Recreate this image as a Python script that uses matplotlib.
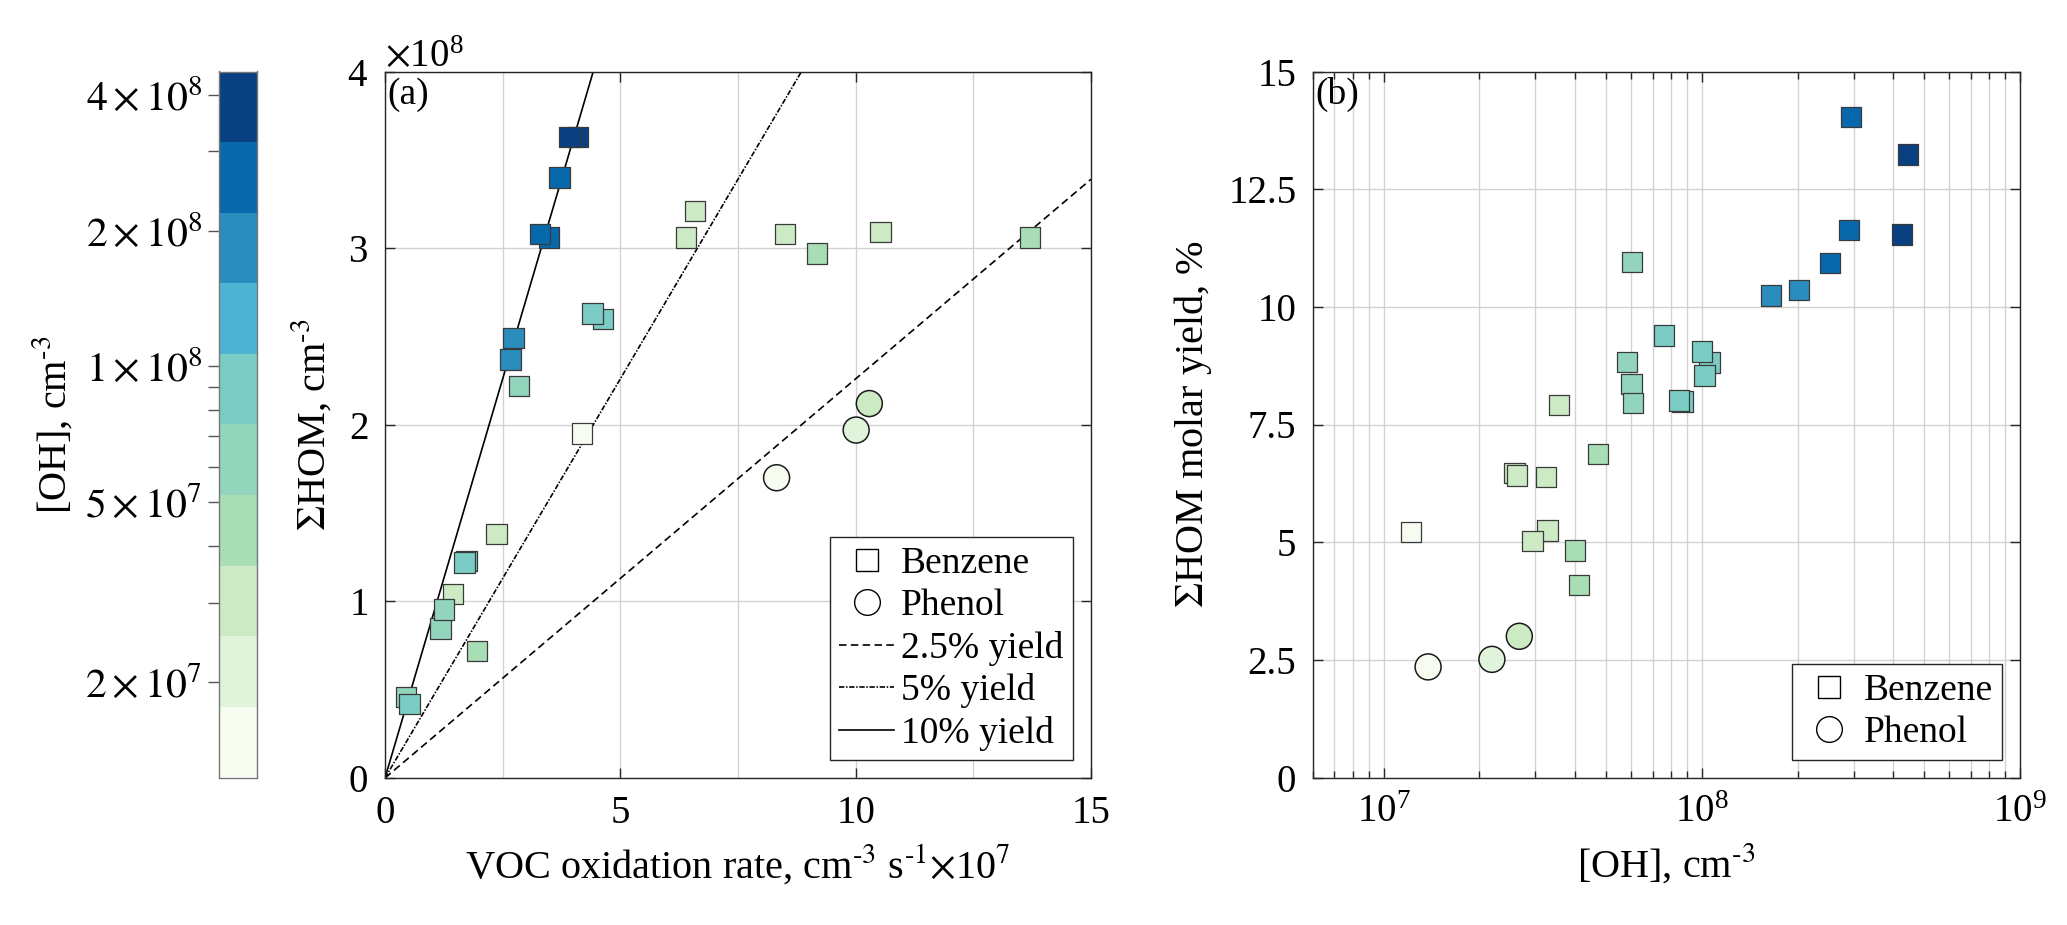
import numpy as np
import matplotlib
matplotlib.use('Agg')
import matplotlib.pyplot as plt
from matplotlib.colors import ListedColormap, BoundaryNorm
from matplotlib.lines import Line2D
from matplotlib.ticker import (FixedLocator, NullFormatter, MultipleLocator,
                               LogLocator, ScalarFormatter)

plt.rcParams['font.family'] = ['Liberation Serif', 'DejaVu Serif']
plt.rcParams['mathtext.fontset'] = 'stix'

# panel (a): benzene, VOC oxidation rate (1e7 cm-3 s-1) vs HOM (1e8 cm-3), OH colour
rate_bz = [0.45, 0.52, 1.18, 1.44, 1.26, 1.73, 1.69, 1.96, 2.37, 2.85, 2.73, 2.67,
           3.49, 3.29, 3.71, 4.09, 3.92, 4.18, 4.63, 4.41, 6.40, 6.58, 8.50, 9.18,
           10.53, 13.71]
hom_bz = [0.46, 0.42, 0.847, 1.04, 0.955, 1.23, 1.22, 0.72, 1.38, 2.22, 2.49, 2.37,
          3.06, 3.08, 3.40, 3.63, 3.63, 1.95, 2.60, 2.63, 3.06, 3.21, 3.08, 2.97,
          3.09, 3.06]
oh_bz_a = [6.0e7, 9.0e7, 6.2e7, 3.0e7, 6.0e7, 1.0e8, 9.5e7, 4.2e7, 3.2e7, 6.0e7,
           2.0e8, 1.7e8, 2.9e8, 2.5e8, 2.9e8, 4.4e8, 4.2e8, 1.22e7, 8.7e7, 8.5e7,
           3.3e7, 2.6e7, 2.9e7, 4.0e7, 3.5e7, 4.7e7]

# panel (a): phenol
rate_ph = [8.32, 10.01, 10.29]
hom_ph = [1.70, 1.97, 2.12]
oh_ph = [1.38e7, 2.19e7, 2.67e7]

# panel (b): benzene, [OH] vs molar yield (%)
oh_bz_b = [1.22e7, 2.58e7, 2.62e7, 3.24e7, 3.27e7, 2.94e7, 3.56e7, 4.0e7, 4.11e7,
           4.72e7, 5.83e7, 6.01e7, 6.07e7, 6.04e7, 7.6e7, 8.7e7, 8.47e7, 1.057e8,
           1.0e8, 1.02e8, 1.65e8, 2.02e8, 2.53e8, 2.9e8, 2.94e8, 4.25e8, 4.45e8]
yield_bz = [5.21, 6.47, 6.42, 6.38, 5.25, 5.02, 7.92, 4.82, 4.09,
            6.87, 8.83, 8.36, 7.96, 10.95, 9.39, 7.99, 8.01, 8.82,
            9.05, 8.54, 10.24, 10.36, 10.93, 11.63, 14.04, 11.54, 13.24]
# panel (b): phenol
yield_ph = [2.35, 2.51, 3.0]

# reference yield lines
yield_lines = [2.5, 5, 10]
yield_labels = ['2.5% yield', '5% yield', '10% yield']
yield_styles = [(0, (4.5, 2.6)), (0, (3.2, 1.0, 0.9, 1.0)), '-']
tau = 90.4
rate_span = np.array([0.0, 15.0])

# discrete colour scale for [OH]
cb_colors = ['#f7fcf0', '#e0f3db', '#ccebc5', '#a8ddb5', '#93d4bc',
             '#7bccc4', '#4eb3d3', '#2b8cbe', '#0868ac', '#084081']
oh_min, oh_max = 1.23e7, 4.5e8
cb_ticks = [2e7, 5e7, 1e8, 2e8, 4e8]
cb_ticklabels = [r'$2\times10^{7}$', r'$5\times10^{7}$', r'$1\times10^{8}$',
                 r'$2\times10^{8}$', r'$4\times10^{8}$']
cb_minor = [3e7, 4e7, 6e7, 7e7, 8e7, 9e7, 3e8]

bounds = np.logspace(np.log10(oh_min), np.log10(oh_max), len(cb_colors) + 1)
cmap = ListedColormap(cb_colors)
norm = BoundaryNorm(bounds, cmap.N, clip=True)

CM3 = r'cm$^{\text{-3}}$'

W, H = 2067, 925
fig = plt.figure(figsize=(W / 100, H / 100), dpi=100)
ax_a = fig.add_axes([385 / W, 1 - 778 / H, 706 / W, 706.5 / H])
ax_b = fig.add_axes([1313 / W, 1 - 777.5 / H, 707 / W, 706 / H])
cax = fig.add_axes([219 / W, 1 - 777.5 / H, 38 / W, 706 / H])

AX_C = '#262626'
GRID_C = '#d2d2d2'
FS = 28


def style(ax):
    for s in ax.spines.values():
        s.set_color(AX_C)
        s.set_linewidth(1.0)
    ax.tick_params(which='both', direction='in', top=True, right=True,
                   labelsize=FS, color=AX_C, width=1.0, pad=12)
    ax.tick_params(which='major', length=7)
    ax.set_axisbelow(True)


# ---------- panel (a)
style(ax_a)
ax_a.set_xlim(0, 15)
ax_a.set_ylim(0, 4e8)
ax_a.xaxis.set_major_locator(FixedLocator([0, 5, 10, 15]))
ax_a.xaxis.set_minor_locator(MultipleLocator(2.5))
ax_a.tick_params(which='minor', length=0)
ax_a.yaxis.set_major_locator(MultipleLocator(1e8))
fmt = ScalarFormatter(useMathText=True)
ax_a.yaxis.set_major_formatter(fmt)
ax_a.yaxis.get_offset_text().set_fontsize(FS)
ax_a.grid(True, which='major', color=GRID_C, lw=1.0)
ax_a.grid(True, which='minor', axis='x', color=GRID_C, lw=1.0)

for yl, ls in zip(yield_lines, yield_styles):
    ax_a.plot(rate_span, yl / 100 * rate_span * 1e7 * tau, color='black',
              ls=ls, lw=1.2, zorder=2)

ax_a.scatter(rate_bz, np.array(hom_bz) * 1e8, marker='s', s=215,
             c=cmap(norm(oh_bz_a)), edgecolors='#3a3a3a', linewidths=0.9, zorder=3)
ax_a.scatter(rate_ph, np.array(hom_ph) * 1e8, marker='o', s=350,
             c=cmap(norm(oh_ph)), edgecolors='#1a1a1a', linewidths=1.1, zorder=3)

ax_a.set_xlabel(r'VOC oxidation rate, cm$^{\text{-3}}$ s$^{\text{-1}}$$\times$10$^{7}$',
                fontsize=29, labelpad=8)
ax_a.set_ylabel(r'$\Sigma$HOM, ' + CM3, fontsize=29, labelpad=10)
ax_a.text(0.004, 0.992, '(a)', transform=ax_a.transAxes, fontsize=27, va='top', ha='left')

handles_a = [Line2D([], [], marker='s', ls='none', mfc='white', mec='black', ms=16, mew=1.0),
             Line2D([], [], marker='o', ls='none', mfc='white', mec='black', ms=18.5, mew=1.0)]
for ls in yield_styles:
    handles_a.append(Line2D([], [], color='black', ls=ls, lw=1.2))
leg = ax_a.legend(handles_a, ['Benzene', 'Phenol'] + yield_labels, loc='lower right',
                  fontsize=27, frameon=True, fancybox=False, framealpha=1,
                  edgecolor=AX_C, borderaxespad=0.48, handlelength=1.45,
                  handletextpad=0.2, borderpad=0.25, labelspacing=0.2)
leg.get_frame().set_linewidth(1.0)

# ---------- panel (b)
style(ax_b)
ax_b.set_xscale('log')
ax_b.set_xlim(6e6, 1e9)
ax_b.set_ylim(0, 15)
ax_b.xaxis.set_major_locator(FixedLocator([1e7, 1e8, 1e9]))
ax_b.xaxis.set_minor_locator(LogLocator(base=10, subs=np.arange(2, 10)))
ax_b.xaxis.set_minor_formatter(NullFormatter())
ax_b.tick_params(which='minor', length=5)
ytk = [0, 2.5, 5, 7.5, 10, 12.5, 15]
ax_b.set_yticks(ytk, labels=['0', '2.5', '5', '7.5', '10', '12.5', '15'])
ax_b.grid(True, which='both', axis='x', color=GRID_C, lw=1.0)
ax_b.grid(True, which='major', axis='y', color=GRID_C, lw=1.0)

ax_b.scatter(oh_bz_b, yield_bz, marker='s', s=215, c=cmap(norm(oh_bz_b)),
             edgecolors='#3a3a3a', linewidths=0.9, zorder=3)
ax_b.scatter(oh_ph, yield_ph, marker='o', s=350, c=cmap(norm(oh_ph)),
             edgecolors='#1a1a1a', linewidths=1.1, zorder=3)

ax_b.set_xlabel('[OH], ' + CM3, fontsize=29, labelpad=8)
ax_b.set_ylabel(r'$\Sigma$HOM molar yield, %', fontsize=29, labelpad=10)
ax_b.text(0.004, 0.992, '(b)', transform=ax_b.transAxes, fontsize=27, va='top', ha='left')

leg_b = ax_b.legend(handles_a[:2], ['Benzene', 'Phenol'], loc='lower right',
                    fontsize=27, frameon=True, fancybox=False, framealpha=1,
                    edgecolor=AX_C, borderaxespad=0.48, handlelength=1.45,
                    handletextpad=0.2, borderpad=0.25, labelspacing=0.2)
leg_b.get_frame().set_linewidth(1.0)

# ---------- colour bar
cax.set_yscale('log')
cax.set_ylim(oh_min, oh_max)
cax.set_xlim(0, 1)
for lo, hi, col in zip(bounds[:-1], bounds[1:], cb_colors):
    cax.axhspan(lo, hi, color=col, lw=0)
cax.set_xticks([])
cax.yaxis.set_ticks_position('left')
cax.yaxis.set_label_position('left')
cax.yaxis.set_major_locator(FixedLocator(cb_ticks))
cax.set_yticklabels(cb_ticklabels)
cax.yaxis.set_minor_locator(FixedLocator(cb_minor))
cax.yaxis.set_minor_formatter(NullFormatter())
cax.tick_params(which='both', direction='out', length=8, width=1.0,
                color='#555555', labelsize=30, pad=4)
for s in cax.spines.values():
    s.set_color('#777777')
    s.set_linewidth(1.0)
cax.set_ylabel('[OH], ' + CM3, fontsize=29, labelpad=8)

fig.savefig('out.png', dpi=100)
